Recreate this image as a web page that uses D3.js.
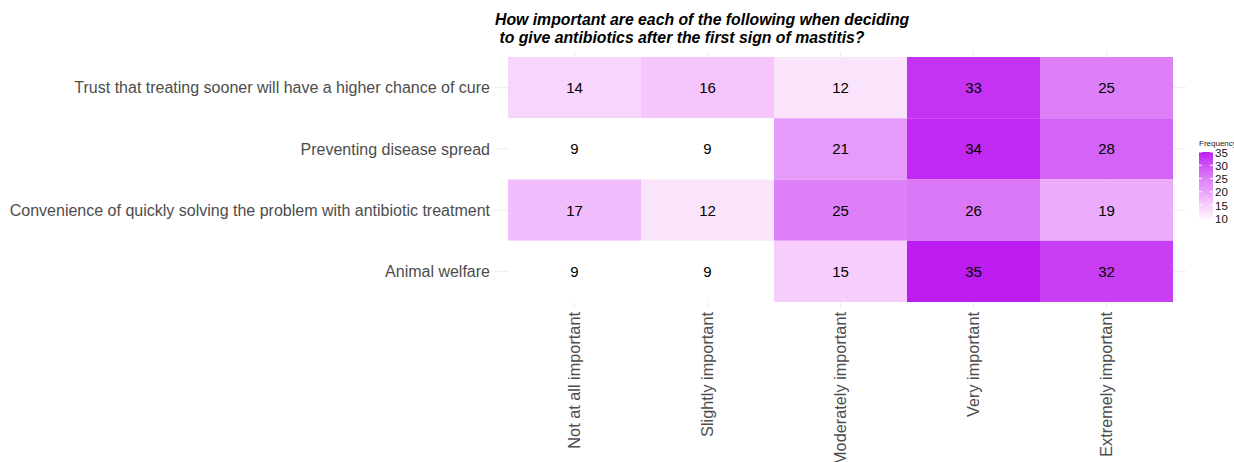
<!DOCTYPE html>
<html><head><meta charset="utf-8">
<script src="https://cdn.jsdelivr.net/npm/d3@7"></script>
<style>body{margin:0;background:#fff}svg{display:block;font-family:"Liberation Sans",Arial,sans-serif}</style>
</head><body>
<svg id="c" width="1234" height="462"></svg>
<script>
const factors = ["Trust that treating sooner will have a higher chance of cure","Preventing disease spread","Convenience of quickly solving the problem with antibiotic treatment","Animal welfare"];
const levels = ["Not at all important","Slightly important","Moderately important","Very important","Extremely important"];
const trustVals = [14,16,12,33,25];
const spreadVals = [9,9,21,34,28];
const convVals = [17,12,25,26,19];
const welfareVals = [9,9,15,35,32];
const legendTicks = [10,15,20,25,30,35];
const titleLines = ["How important are each of the following when deciding"," to give antibiotics after the first sign of mastitis?"];

// colour ramp stops (value -> colour), sampled from the reference ramp
const rampStops = [9,12,16,21,25,28,33,35];
const rampColours = ["#FFFFFF","#FAE4FC","#F5C5FC","#E59BFA","#DD80F7","#D364F5","#C532F1","#BC1CF0"];

const rows = [trustVals, spreadVals, convVals, welfareVals];
const cells = [];
rows.forEach((vals,i)=>vals.forEach((v,j)=>cells.push({f:factors[i],l:levels[j],v})));

const svg = d3.select("#c");
const x = d3.scaleBand().domain(levels).range([508,1173]);
const y = d3.scaleBand().domain(factors).range([57,302]);
const color = d3.scaleLinear().domain(rampStops).range(rampColours).interpolate(d3.interpolateLab).clamp(true);
const panel = {l:495,r:1186,t:51,b:308};
const grid = "#EEEEEE";

// gridlines
svg.append("g").selectAll("line").data(levels).join("line")
  .attr("x1",d=>x(d)+x.bandwidth()/2).attr("x2",d=>x(d)+x.bandwidth()/2)
  .attr("y1",panel.t).attr("y2",panel.b).attr("stroke",grid).attr("stroke-width",1);
svg.append("g").selectAll("line").data(factors).join("line")
  .attr("y1",d=>y(d)+y.bandwidth()/2).attr("y2",d=>y(d)+y.bandwidth()/2)
  .attr("x1",panel.l).attr("x2",panel.r).attr("stroke",grid).attr("stroke-width",1);

// tiles
svg.append("g").selectAll("rect").data(cells).join("rect")
  .attr("x",d=>x(d.l)).attr("y",d=>y(d.f)).attr("width",x.bandwidth()).attr("height",y.bandwidth())
  .attr("fill",d=>color(d.v));
svg.append("g").selectAll("text").data(cells).join("text")
  .attr("x",d=>x(d.l)+x.bandwidth()/2).attr("y",d=>y(d.f)+y.bandwidth()/2)
  .attr("dy","0.36em").attr("text-anchor","middle").attr("font-size",15).attr("fill","#000")
  .text(d=>d.v);

// y axis labels
svg.append("g").selectAll("text").data(factors).join("text")
  .attr("x",490).attr("y",d=>y(d)+y.bandwidth()/2).attr("dy","0.36em")
  .attr("text-anchor","end").attr("font-size",16).attr("fill","#4D4D4D").text(d=>d);

// x axis labels
svg.append("g").selectAll("text").data(levels).join("text")
  .attr("transform",d=>`translate(${x(d)+x.bandwidth()/2},312) rotate(-90)`)
  .attr("dy","0.36em").attr("text-anchor","end").attr("font-size",16.3).attr("fill","#4D4D4D").text(d=>d);

// title
svg.append("g").selectAll("text").data(titleLines).join("text")
  .attr("x",495).attr("y",(d,i)=>25+i*18).attr("font-size",15.8).attr("font-weight","bold")
  .attr("font-style","italic").attr("fill","#000").style("white-space","pre").text(d=>d);

// legend
const ly = d3.scaleLinear().domain([9,35]).range([221,152]);
const defs = svg.append("defs");
const grad = defs.append("linearGradient").attr("id","lg").attr("x1",0).attr("x2",0).attr("y1",1).attr("y2",0);
d3.range(0,1.0001,0.05).forEach(t=>grad.append("stop").attr("offset",t).attr("stop-color",color(9+26*t)));
const lx=1199, lw=14;
svg.append("text").attr("x",lx).attr("y",145.5).attr("font-size",8).attr("fill","#1a1a1a").text("Frequency");
svg.append("rect").attr("x",lx).attr("y",ly(35)).attr("width",lw).attr("height",ly(9)-ly(35)).attr("fill","url(#lg)");
const lt = svg.append("g");
lt.selectAll("line.a").data(legendTicks).join("line").attr("class","a")
  .attr("x1",lx).attr("x2",lx+3).attr("y1",d=>ly(d)).attr("y2",d=>ly(d)).attr("stroke","#fff");
lt.selectAll("line.b").data(legendTicks).join("line").attr("class","b")
  .attr("x1",lx+lw-3).attr("x2",lx+lw).attr("y1",d=>ly(d)).attr("y2",d=>ly(d)).attr("stroke","#fff");
lt.selectAll("text").data(legendTicks).join("text")
  .attr("x",lx+lw+2).attr("y",d=>ly(d)+0.5).attr("dy","0.36em").attr("font-size",11.5).attr("fill","#111").text(d=>d);
</script>
</body></html>
